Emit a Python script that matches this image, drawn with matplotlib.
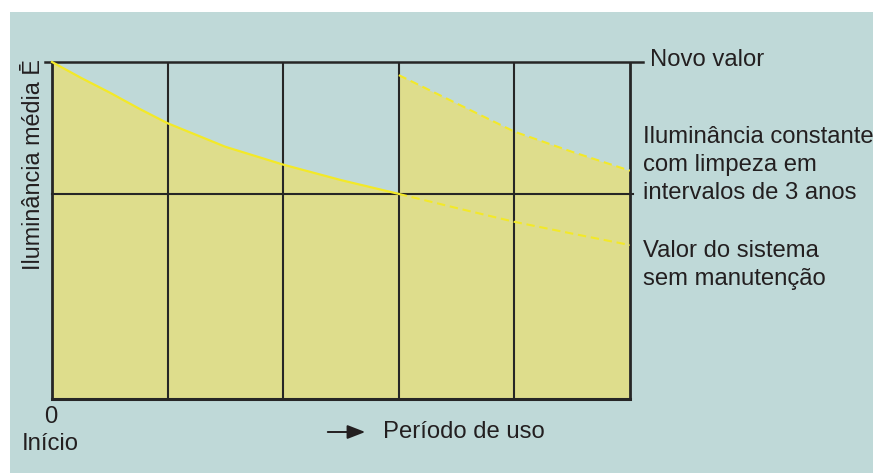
#!/usr/bin/env python3
"""
Illuminance decay over time, with and without cleaning every 3 years
"""

import matplotlib
matplotlib.use('Agg')
import matplotlib.pyplot as plt
from matplotlib.patches import Rectangle, FancyArrowPatch

# (fraction of the new value)
anos = [0, 0.25, 0.5, 0.75, 1, 1.5, 2, 2.5, 3]
sem_manutencao = [1.0, 0.953, 0.909, 0.862, 0.818, 0.748, 0.695, 0.649, 0.608]
anos_depois = [3, 3.5, 4, 4.5, 5]
sem_manutencao_depois = [0.608, 0.566, 0.525, 0.49, 0.456]
com_limpeza = [0.961, 0.877, 0.793, 0.733, 0.677]
divisoes = [0, 1, 2, 3, 4, 5]

W, H = 873, 473
BG = '#bfd9d8'
FILL = '#dedd8c'
YELLOW = '#f3e928'
DARK = '#262626'
TXT = '#231f20'

plt.rcParams['font.family'] = ['Liberation Sans', 'DejaVu Sans']

fig = plt.figure(figsize=(W / 100, H / 100), dpi=100)
fig.patch.set_facecolor('white')
# teal panel (white strip on top and left)
fig.patches.append(Rectangle((10 / W, 0), 1, 1 - 12 / H, transform=fig.transFigure,
                             facecolor=BG, edgecolor='none', zorder=-5))

def fx(px):
    return px / W

def fy(py):
    return 1 - py / H

left, right, top, bottom = 52, 630, 62, 398.5
ax = fig.add_axes([fx(left), fy(bottom), fx(right) - fx(left), fy(top) - fy(bottom)])
ax.set_zorder(2)
ax.set_facecolor('none')
ax.set_xlim(0, 5)
ax.set_ylim(0, 1)
for s in ax.spines.values():
    s.set_visible(False)
ax.set_xticks([])
ax.set_yticks([])

# filled areas
ax.fill_between(anos, sem_manutencao, 0, color=FILL, lw=0, zorder=1)
ax.fill_between(anos_depois, com_limpeza, 0, color=FILL, lw=0, zorder=1)

# grid
for x in divisoes:
    lw = 2.0 if x in (0, 5) else 1.5
    ax.plot([x, x], [0, 1], color=DARK, lw=lw, zorder=2, solid_capstyle='butt',
            clip_on=False)
ax.plot([-0.06, 5.11], [1, 1], color=DARK, lw=1.8, zorder=2, clip_on=False)
ax.plot([0, 5.03], [sem_manutencao[-1]] * 2, color=DARK, lw=1.5, zorder=2, clip_on=False)
ax.plot([0, 5], [0, 0], color=DARK, lw=2.2, zorder=2, clip_on=False)

# curves
ax.plot(anos, sem_manutencao, color=YELLOW, lw=1.6, zorder=3, clip_on=False)
ax.plot(anos_depois, sem_manutencao_depois, color=YELLOW, lw=1.5, dashes=(4, 2.3), zorder=3)
ax.plot(anos_depois, com_limpeza, color=YELLOW, lw=1.5, dashes=(4, 2.3), zorder=3)

fs = 17.2
fig.text(fx(650), fy(60), 'Novo valor', fontsize=fs, va='center', ha='left', color=TXT)
fig.text(fx(643), fy(165), 'Iluminância constante\ncom limpeza em\nintervalos de 3 anos',
         fontsize=fs, va='center', ha='left', color=TXT, linespacing=1.36)
fig.text(fx(643), fy(265), 'Valor do sistema\nsem manutenção',
         fontsize=fs, va='center', ha='left', color=TXT, linespacing=1.36)
fig.text(fx(51), fy(417), '0', fontsize=fs, va='center', ha='center', color=TXT)
fig.text(fx(22), fy(444), 'Início', fontsize=fs, va='center', ha='left', color=TXT)
fig.text(fx(383), fy(432), 'Período de uso', fontsize=fs, va='center', ha='left', color=TXT)
fig.text(fx(34), fy(59), 'Iluminância média Ē', fontsize=16.8, rotation=90,
         va='top', ha='center', color=TXT)

# arrow before "Período de uso"
fig.patches.append(FancyArrowPatch(
    (fx(325), fy(432)), (fx(368), fy(432)), transform=fig.transFigure,
    arrowstyle='-|>,head_length=0.9,head_width=0.35', mutation_scale=12,
    color=TXT, lw=1.4))

fig.savefig('out.png', dpi=100, facecolor=fig.get_facecolor())
plt.close(fig)
